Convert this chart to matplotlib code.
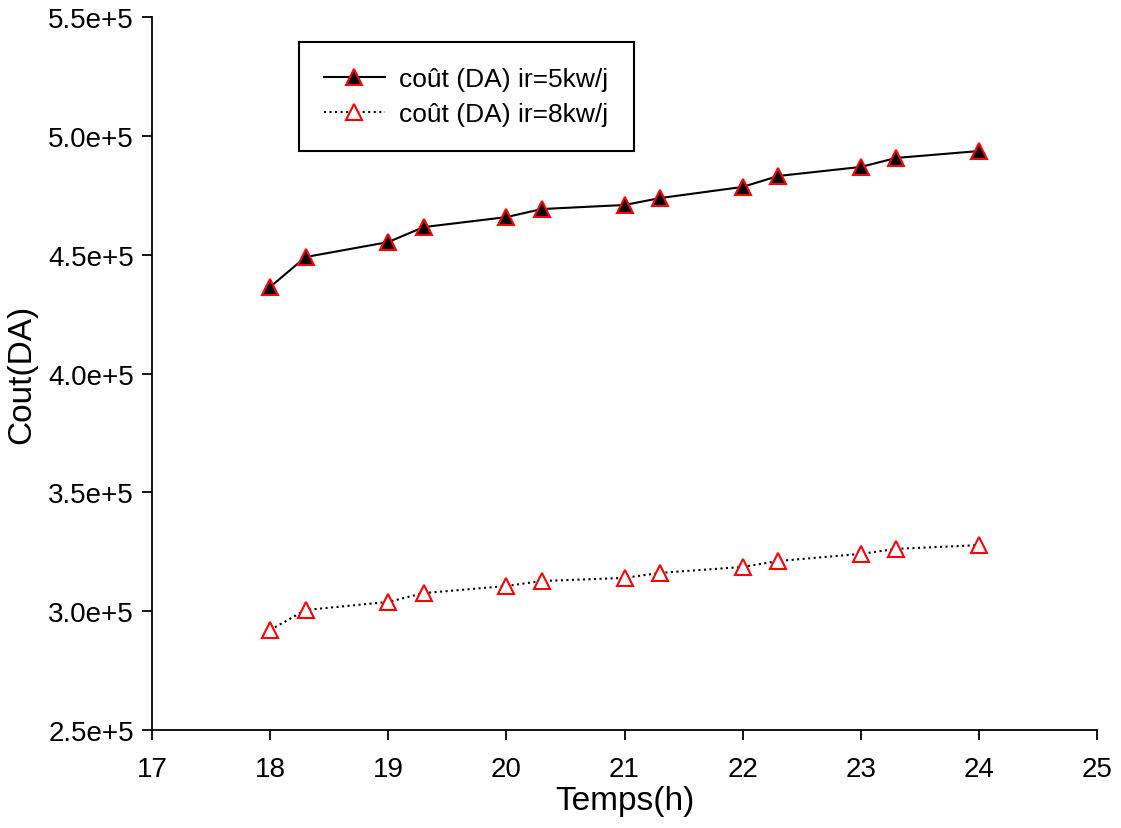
import matplotlib
matplotlib.use("Agg")
import matplotlib.pyplot as plt

# --------------------------
# DATA
# --------------------------
temps = [18, 18.3, 19, 19.3, 20, 20.3, 21, 21.3, 22, 22.3, 23, 23.3, 24]
cout_5kw = [4.364e5, 4.490e5, 4.553e5, 4.616e5, 4.658e5, 4.692e5, 4.709e5,
            4.738e5, 4.785e5, 4.831e5, 4.869e5, 4.907e5, 4.936e5]
cout_8kw = [2.921e5, 3.005e5, 3.039e5, 3.076e5, 3.106e5, 3.127e5, 3.140e5,
            3.161e5, 3.186e5, 3.211e5, 3.241e5, 3.262e5, 3.278e5]

x_ticks = [17, 18, 19, 20, 21, 22, 23, 24, 25]
y_ticks = [2.5e5, 3.0e5, 3.5e5, 4.0e5, 4.5e5, 5.0e5, 5.5e5]
y_labels = ["2.5e+5", "3.0e+5", "3.5e+5", "4.0e+5", "4.5e+5", "5.0e+5", "5.5e+5"]

label_5kw = "coût (DA) ir=5kw/j"
label_8kw = "coût (DA) ir=8kw/j"

plt.rcParams["font.family"] = ["Liberation Sans", "DejaVu Sans"]

fig = plt.figure(figsize=(11.21, 8.29), dpi=100)
ax = fig.add_axes([0.1356, 0.1182, 0.843, 0.8601])

ax.plot(temps, cout_5kw, "-", color="black", lw=1.5, marker="^",
        markersize=11.5, markerfacecolor="black", markeredgecolor="red",
        markeredgewidth=1.5, label=label_5kw)
ax.plot(temps, cout_8kw, ":", color="black", lw=1.5, marker="^",
        markersize=11.5, markerfacecolor="white", markeredgecolor="red",
        markeredgewidth=1.5, label=label_8kw)

ax.set_xlim(17, 25)
ax.set_ylim(2.5e5, 5.5e5)
ax.set_xticks(x_ticks)
ax.set_yticks(y_ticks)
ax.set_yticklabels(y_labels)

for side in ["top", "right"]:
    ax.spines[side].set_visible(False)
for side in ["left", "bottom"]:
    ax.spines[side].set_linewidth(1.3)
ax.tick_params(direction="out", length=7, width=1.3, labelsize=20)
ax.tick_params(axis="x", pad=12)
ax.tick_params(axis="y", pad=6)

ax.set_xlabel("Temps(h)", fontsize=24, labelpad=2)
ax.set_ylabel("Cout(DA)", fontsize=24, labelpad=8)

leg = ax.legend(loc="upper left", bbox_to_anchor=(0.1556, 0.965),
                borderaxespad=0, fontsize=19, fancybox=False, framealpha=1,
                edgecolor="black", handlelength=2.3, handletextpad=0.55,
                borderpad=0.95, labelspacing=0.42)
leg.get_frame().set_linewidth(1.5)

fig.savefig("out.png", dpi=100)
